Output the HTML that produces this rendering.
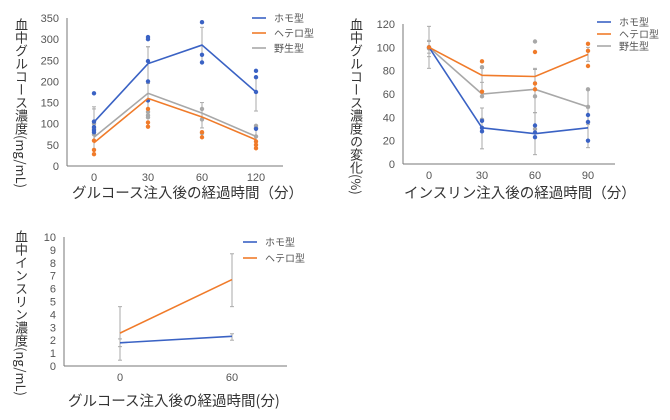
<!DOCTYPE html><html><head><meta charset="utf-8"><style>
body{margin:0;background:#fff;width:670px;height:420px;overflow:hidden;font-family:"Liberation Sans","Noto Sans CJK JP",sans-serif}
.v{position:absolute;writing-mode:vertical-rl;font-size:13px;line-height:16px;color:#333;white-space:nowrap;font-family:"Noto Sans CJK JP",sans-serif}
.t{position:absolute;font-size:14px;color:#333;font-family:"Noto Sans CJK JP",sans-serif;white-space:nowrap}
svg{position:absolute;left:0;top:0}
</style></head><body>
<div class="v" style="left:13px;top:18px">血中グルコース濃度(mg/mL)</div>
<div class="v" style="left:348px;top:18px">血中グルコース濃度の変化(%)</div>
<div class="v" style="left:13px;top:230px">血中インスリン濃度(ng/mL)</div>
<div class="t" style="left:72px;top:182px;font-size:14.5px">グルコース注入後の経過時間（分）</div>
<div class="t" style="left:404px;top:182px;font-size:14.5px">インスリン注入後の経過時間（分）</div>
<div class="t" style="left:68px;top:390px;font-size:14.5px">グルコース注入後の経過時間(分)</div>
<svg id="s" width="670" height="420" font-family="Liberation Sans, sans-serif" font-size="11" fill="#555"></svg>
<script>
var s=document.getElementById('s'),h='';
var B='#3a62c4',O='#f07b2a',G='#a8a8a8';
function ln(x1,y1,x2,y2,c,w){h+='<line x1="'+x1+'" y1="'+y1+'" x2="'+x2+'" y2="'+y2+'" stroke="'+c+'" stroke-width="'+(w||1)+'"/>';}
function tx(x,y,t,a,fs){h+='<text x="'+x+'" y="'+y+'" text-anchor="'+(a||'middle')+'"'+(fs?' font-size="'+fs+'"':'')+'>'+t+'</text>';}
function dot(x,y,c){h+='<circle cx="'+x+'" cy="'+y+'" r="2.2" fill="'+c+'"/>';}
function chart(o){
 var Y=function(v){return o.y0-(v-o.min)/(o.max-o.min)*(o.y0-o.y1);};
 ln(o.ax,o.y1,o.ax,o.y0,'#777');ln(o.ax,o.y0,o.ae,o.y0,'#777');
 for(var v=o.min;v<=o.max;v+=o.step){tx(o.ax-8,Y(v)+4,v,'end');}
 o.xs.forEach(function(x,i){tx(x,o.y0+15,o.xl[i]);});
 o.series.forEach(function(sr){
  (sr.err||[]).forEach(function(e,i){var x=o.xs[i];ln(x,Y(e[0]),x,Y(e[1]),'#aaa');ln(x-2,Y(e[0]),x+2,Y(e[0]),'#aaa');ln(x-2,Y(e[1]),x+2,Y(e[1]),'#aaa');});
 });
 o.series.forEach(function(sr){
  var p=sr.v.map(function(v,i){return o.xs[i]+','+Y(v);}).join(' ');
  h+='<polyline points="'+p+'" fill="none" stroke="'+sr.c+'" stroke-width="1.6"/>';
  (sr.d||[]).forEach(function(ds,i){ds.forEach(function(v){dot(o.xs[i],Y(v),sr.c);});});
 });
 o.leg.forEach(function(l,i){var y=o.ly+i*o.lg;ln(o.lx,y,o.lx+14,y,l[0],1.6);tx(o.lx+22,y+4,l[1],'start',10);});
}
var L3=[[B,'ホモ型'],[O,'ヘテロ型'],[G,'野生型']];
chart({ax:67,ae:283,y0:166,y1:18,min:0,max:350,step:50,xs:[94,148,202,256],xl:[0,30,60,120],lx:252,ly:18,lg:15,leg:L3,
series:[
{c:G,v:[68,172,125,70],err:[[40,140],[120,282],[90,150],[50,95]],d:[[75,88,100],[115,120,128],[78,110,135],[70,90,95]]},
{c:B,v:[104,242,286,175],err:[[75,135],[195,282],[245,328],[130,210]],d:[[172,105,92,85,80],[305,300,248,200,155],[340,263,245],[225,210,175,88]]},
{c:O,v:[55,160,116,62],d:[[60,38,28],[135,103,93],[80,68],[58,50,42]]}
]});
chart({ax:403,ae:615,y0:164,y1:24,min:0,max:120,step:20,xs:[429,482,535,588],xl:[0,30,60,90],lx:597,ly:22,lg:12,leg:L3,
series:[
{c:G,v:[100,60,64,49],err:[[82,118],[58,82],[44,82],[34,64]],d:[[99],[83,58,38],[105,58,30],[64,49,36]]},
{c:B,v:[100,31,26,31],err:[[92,106],[13,48],[8,44],[14,48]],d:[[100],[37,31,28],[33,27,23],[42,36,20]]},
{c:O,v:[100,76,75,94],err:[[95,105],[70,82],[70,81],[88,100]],d:[[100],[88,62],[96,69,64],[103,97,84]]}
]});
chart({ax:64,ae:287,y0:366,y1:237,min:0,max:10,step:1,xs:[120,232],xl:[0,60],lx:243,ly:242,lg:16,leg:[[B,'ホモ型'],[O,'ヘテロ型']],
series:[
{c:B,v:[1.8,2.3],err:[[1.5,2.1],[2.0,2.5]]},
{c:O,v:[2.55,6.7],err:[[0.45,4.6],[4.6,8.7]]}
]});
s.innerHTML=h;
</script>
</body></html>
